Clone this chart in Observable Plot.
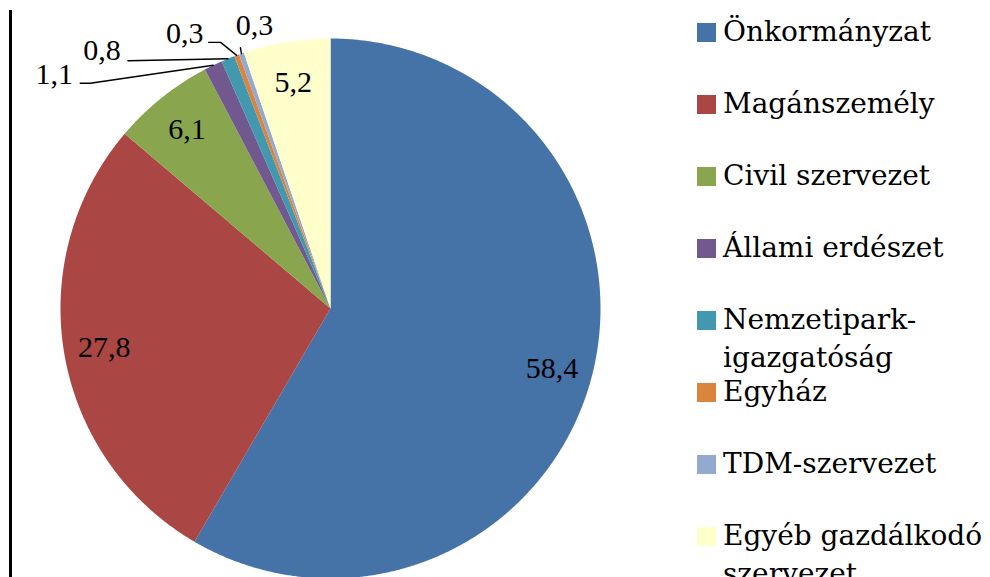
<!DOCTYPE html>
<html>
<head>
<meta charset="utf-8">
<script src="https://cdn.jsdelivr.net/npm/d3@7"></script>
<script src="https://cdn.jsdelivr.net/npm/@observablehq/plot@0.6"></script>
<style>
  body { margin: 0; background: #fff; }
  #wrap { position: relative; width: 990px; height: 577px; overflow: hidden; background: #fff; }
  #wrap svg { position: absolute; left: 0; top: 0; overflow: visible; }
  #frameLine { position: absolute; left: 9px; top: 10px; width: 2.5px; height: 570px; background: #000; }
  #legend { position: absolute; left: 0; top: 0; font-family: "DejaVu Serif", serif; font-size: 28px; color: #000; }
  .sw { position: absolute; width: 19px; height: 19px; }
  .lt { position: absolute; line-height: 38px; white-space: pre; }
</style>
</head>
<body>
<div id="wrap">
  <div id="frameLine"></div>
  <div id="legend"></div>
</div>
<script>
// ---- data ----
const categories = ["Önkormányzat", "Magánszemély", "Civil szervezet", "Állami erdészet",
  "Nemzetipark-igazgatóság", "Egyház", "TDM-szervezet", "Egyéb gazdálkodó szervezet"];
const legendLabels = ["Önkormányzat", "Magánszemély", "Civil szervezet", "Állami erdészet",
  "Nemzetipark-\nigazgatóság", "Egyház", "TDM-szervezet", "Egyéb gazdálkodó\nszervezet"];
const values = [58.4, 27.8, 6.1, 1.1, 0.8, 0.3, 0.3, 5.2];
const colors = ["#4572A7", "#AA4643", "#89A54E", "#71588F", "#4198AF", "#DB843D", "#93A9CF", "#FFFFCC"];

// ---- layout (pixels) ----
const cx = 330, cy = 308, R = 270;
const insideFactor = 0.85;
// offsets (px) of outside labels relative to the slice's rim point: text centre, leader start, leader elbow
const outsideLayout = {
  "Állami erdészet": {text: [-159, 9], start: [-133, 18], elbow: [-123, 18]},
  "Nemzetipark-igazgatóság": {text: [-126, -8], start: [-100, 2], elbow: [-100, 2]},
  "Egyház": {text: [-52, -22], start: [-28, -13], elbow: [-16, -13]},
  "TDM-szervezet": {text: [13, -28], start: [-1, -6], elbow: [-1, -6]}
};

const fmt = d3.formatLocale({decimal: ",", thousands: " ", grouping: [3], currency: ["", ""]}).format(".1f");

const data = categories.map((name, i) => ({name, value: values[i]}));
const arcs = d3.pie().sort(null).value(d => d.value)(data);

// slice polygons in unit coordinates (clockwise from 12 o'clock)
const poly = [];
for (const a of arcs) {
  poly.push({name: a.data.name, x: 0, y: 0});
  const n = Math.max(2, Math.ceil((a.endAngle - a.startAngle) / 0.005));
  for (let k = 0; k <= n; k++) {
    const t = a.startAngle + (a.endAngle - a.startAngle) * k / n;
    poly.push({name: a.data.name, x: Math.sin(t), y: Math.cos(t)});
  }
}

const mid = a => (a.startAngle + a.endAngle) / 2;
const inside = arcs.filter(a => !outsideLayout[a.data.name]).map(a => ({
  name: a.data.name,
  x: insideFactor * Math.sin(mid(a)),
  y: insideFactor * Math.cos(mid(a)),
  label: fmt(a.data.value)
}));

const outside = [];
const leaders = [];
for (const a of arcs) {
  const L = outsideLayout[a.data.name];
  if (!L) continue;
  const px = Math.sin(mid(a)), py = Math.cos(mid(a));
  const off = ([dx, dy]) => ({x: px + dx / R, y: py - dy / R});
  const t = off(L.text);
  outside.push({name: a.data.name, x: t.x, y: t.y, label: fmt(a.data.value)});
  leaders.push({name: a.data.name, ...off(L.start)});
  leaders.push({name: a.data.name, ...off(L.elbow)});
  leaders.push({name: a.data.name, x: px, y: py});
}

const chart = Plot.plot({
  width: 990,
  height: 577,
  x: {domain: [-1, 1], range: [cx - R, cx + R], axis: null},
  y: {domain: [-1, 1], range: [cy + R, cy - R], axis: null},
  color: {domain: categories, range: colors},
  style: {fontFamily: "Liberation Serif, serif", background: "transparent"},
  marks: [
    Plot.line(poly, {x: "x", y: "y", z: "name", fill: "name", stroke: "none", curve: "linear"}),
    Plot.line(leaders, {x: "x", y: "y", z: "name", stroke: "#000", strokeWidth: 1.4, curve: "linear"}),
    Plot.text(inside, {x: "x", y: "y", text: "label", fontSize: 30, fill: "#000", lineAnchor: "middle"}),
    Plot.text(outside, {x: "x", y: "y", text: "label", fontSize: 30, fill: "#000", lineAnchor: "middle"})
  ]
});
document.getElementById("wrap").insertBefore(chart, document.getElementById("frameLine"));

// legend (HTML, right of the pie)
const legend = document.getElementById("legend");
const legTop = 23, legStep = 72, swX = 697, txtX = 723;
categories.forEach((name, i) => {
  const sw = document.createElement("div");
  sw.className = "sw";
  sw.style.left = swX + "px";
  sw.style.top = (legTop + i * legStep) + "px";
  sw.style.background = colors[i];
  legend.appendChild(sw);
  const t = document.createElement("div");
  t.className = "lt";
  t.style.left = txtX + "px";
  t.style.top = (legTop + i * legStep - 10) + "px";
  t.textContent = legendLabels[i];
  legend.appendChild(t);
});
</script>
</body>
</html>
